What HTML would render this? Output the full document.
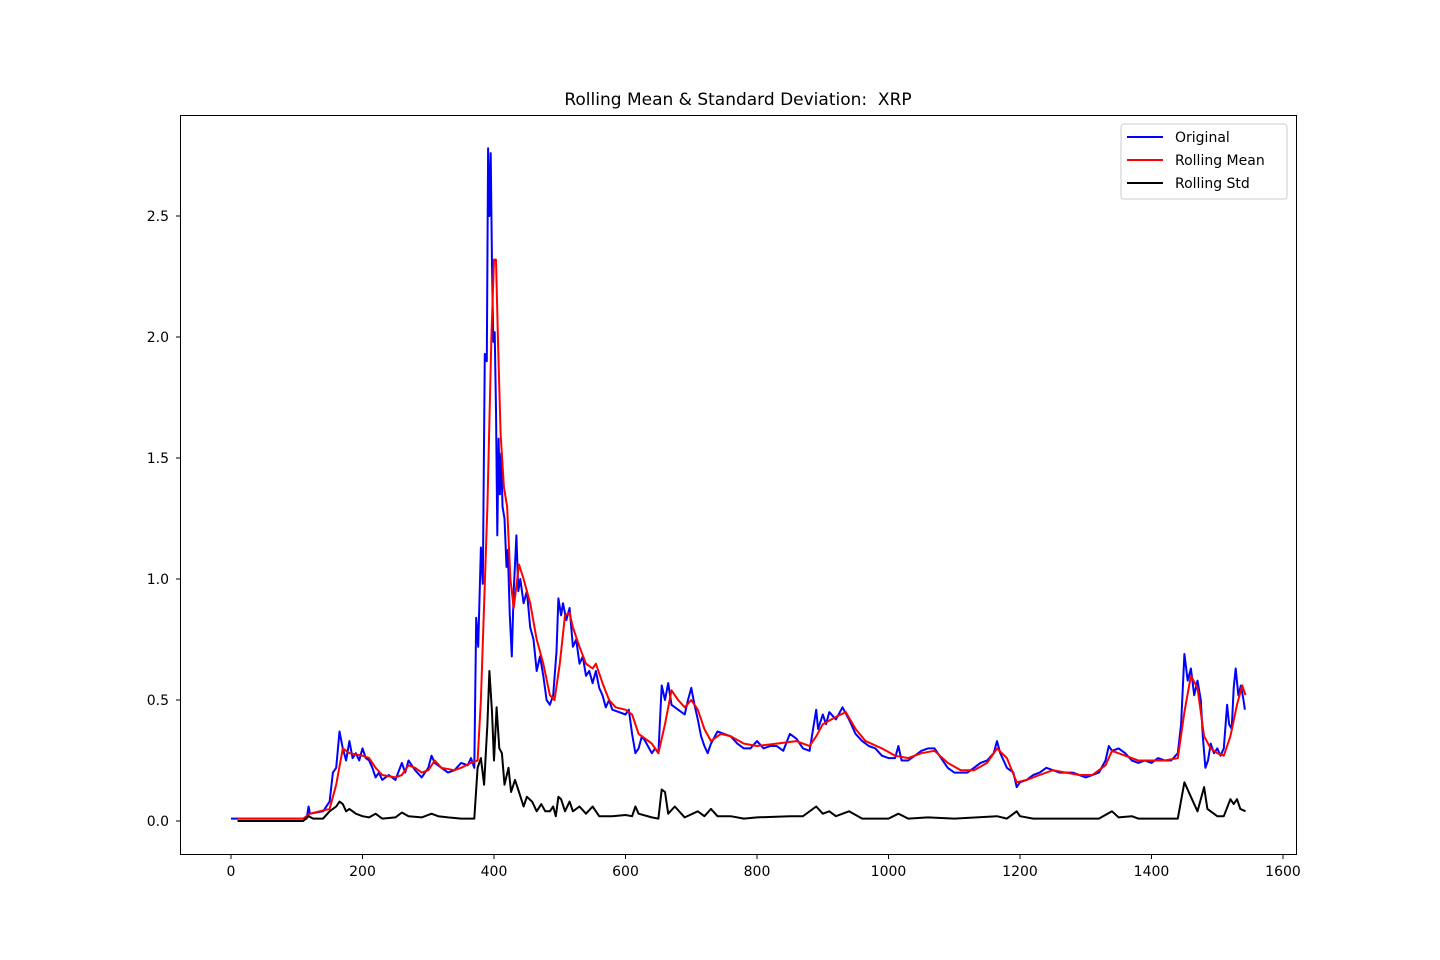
<!DOCTYPE html>
<html><head><meta charset="utf-8"><style>
body{margin:0;background:#fff;}
svg{display:block;font-family:"DejaVu Sans","Liberation Sans",sans-serif;}
</style></head><body>
<svg id="chart" width="1440" height="960">
<rect width="1440" height="960" fill="#fff"/>
<text x="738" y="105" font-size="17" text-anchor="middle">Rolling Mean &amp; Standard Deviation:&#160; XRP</text>
<g id="plot"></g>
<g id="axes"></g>
<rect x="180.5" y="115.5" width="1116" height="739" fill="none" stroke="#000" stroke-width="1"/>
<g>
<rect x="1121" y="124" width="166" height="75" rx="3" fill="#fff" fill-opacity="0.8" stroke="#ccc"/>
<line x1="1127" y1="137" x2="1163" y2="137" stroke="#0000ff" stroke-width="2"/>
<text x="1175" y="142" font-size="14">Original</text>
<line x1="1127" y1="160" x2="1163" y2="160" stroke="#ff0000" stroke-width="2"/>
<text x="1175" y="165" font-size="14">Rolling Mean</text>
<line x1="1127" y1="183" x2="1163" y2="183" stroke="#000" stroke-width="2"/>
<text x="1175" y="188" font-size="14">Rolling Std</text>
</g>
</svg>
<script>
const xTicks=[0,200,400,600,800,1000,1200,1400,1600];
const yTicks=[0.0,0.5,1.0,1.5,2.0,2.5];
const origDays=[0,100,115,118,120,140,150,155,160,165,170,175,180,185,190,195,200,205,210,215,220,225,230,240,250,260,265,270,280,290,300,305,310,320,330,340,350,360,365,370,373,376,380,383,386,389,391,393,395,397,399,401,403,405,407,409,411,413,416,419,421,424,427,430,434,437,440,445,450,455,460,465,470,475,480,485,490,495,498,502,505,510,515,520,525,530,535,540,545,550,555,560,565,570,575,580,590,600,605,610,615,620,625,630,640,645,650,655,660,665,670,680,690,695,700,705,710,715,720,725,730,740,750,760,770,780,790,800,810,820,830,840,850,860,870,880,890,893,900,905,910,920,930,940,950,960,970,980,990,1000,1010,1015,1020,1030,1040,1050,1060,1070,1080,1090,1100,1110,1120,1130,1140,1150,1160,1165,1170,1180,1190,1195,1200,1210,1220,1230,1240,1250,1260,1270,1280,1290,1300,1310,1320,1330,1335,1340,1350,1360,1370,1380,1390,1400,1410,1420,1430,1440,1445,1450,1455,1460,1465,1470,1475,1478,1482,1486,1490,1495,1500,1505,1510,1515,1518,1522,1525,1528,1532,1536,1540,1542];
const origVals=[0.01,0.01,0.01,0.06,0.03,0.04,0.08,0.2,0.22,0.37,0.3,0.25,0.33,0.26,0.28,0.25,0.3,0.26,0.25,0.22,0.18,0.2,0.17,0.19,0.17,0.24,0.2,0.25,0.21,0.18,0.22,0.27,0.24,0.22,0.2,0.21,0.24,0.23,0.26,0.22,0.84,0.72,1.13,0.98,1.93,1.9,2.78,2.5,2.76,2.3,1.98,2.02,1.7,1.18,1.58,1.35,1.52,1.3,1.25,1.05,1.12,0.85,0.68,0.95,1.18,0.95,1.0,0.9,0.95,0.8,0.75,0.62,0.68,0.6,0.5,0.48,0.52,0.7,0.92,0.85,0.9,0.83,0.88,0.72,0.75,0.65,0.68,0.6,0.62,0.57,0.62,0.55,0.52,0.47,0.5,0.46,0.45,0.44,0.46,0.36,0.28,0.3,0.35,0.33,0.28,0.3,0.28,0.56,0.5,0.57,0.48,0.46,0.44,0.5,0.55,0.48,0.42,0.35,0.31,0.28,0.32,0.37,0.36,0.35,0.32,0.3,0.3,0.33,0.3,0.31,0.31,0.29,0.36,0.34,0.3,0.29,0.46,0.38,0.44,0.4,0.45,0.42,0.47,0.42,0.36,0.33,0.31,0.3,0.27,0.26,0.26,0.31,0.25,0.25,0.27,0.29,0.3,0.3,0.26,0.22,0.2,0.2,0.2,0.22,0.24,0.25,0.28,0.33,0.28,0.22,0.2,0.14,0.16,0.17,0.19,0.2,0.22,0.21,0.2,0.2,0.2,0.19,0.18,0.19,0.2,0.25,0.31,0.29,0.3,0.28,0.25,0.24,0.25,0.24,0.26,0.25,0.25,0.28,0.4,0.69,0.58,0.63,0.52,0.58,0.5,0.35,0.22,0.25,0.32,0.28,0.3,0.27,0.3,0.48,0.4,0.38,0.55,0.63,0.52,0.56,0.5,0.46];
const meanDays=[10,110,120,150,160,170,180,200,210,220,230,250,260,270,280,290,300,310,320,340,350,365,375,380,390,396,400,403,406,410,415,420,425,430,438,445,455,465,475,485,492,500,508,515,520,530,540,550,555,565,575,585,600,610,620,630,640,650,660,670,680,690,700,710,720,730,745,760,780,800,830,860,880,890,900,920,935,950,965,990,1010,1030,1050,1070,1090,1110,1130,1150,1165,1180,1195,1210,1230,1250,1270,1290,1310,1330,1340,1360,1380,1400,1420,1440,1450,1460,1470,1480,1490,1500,1510,1520,1530,1538,1543];
const meanVals=[0.01,0.01,0.03,0.05,0.15,0.3,0.28,0.27,0.26,0.22,0.19,0.18,0.19,0.23,0.22,0.2,0.21,0.25,0.22,0.21,0.22,0.24,0.25,0.5,1.3,2.0,2.32,2.32,2.0,1.6,1.38,1.3,1.0,0.88,1.06,1.0,0.9,0.75,0.65,0.52,0.5,0.65,0.85,0.86,0.8,0.72,0.65,0.63,0.65,0.57,0.5,0.47,0.46,0.44,0.36,0.34,0.32,0.28,0.4,0.54,0.5,0.47,0.5,0.46,0.38,0.33,0.36,0.35,0.32,0.31,0.32,0.33,0.31,0.35,0.4,0.43,0.45,0.38,0.33,0.3,0.27,0.26,0.28,0.29,0.24,0.21,0.21,0.24,0.3,0.26,0.16,0.17,0.19,0.21,0.2,0.19,0.19,0.23,0.29,0.27,0.25,0.25,0.25,0.26,0.45,0.6,0.55,0.35,0.3,0.28,0.27,0.35,0.48,0.56,0.52];
const stdDays=[10,110,118,125,140,150,160,165,170,175,180,190,200,210,220,230,250,260,270,290,305,315,330,350,370,375,380,385,390,393,397,400,404,408,412,416,422,426,432,438,445,450,458,465,472,478,485,490,494,498,502,508,515,520,530,540,550,560,580,600,610,615,620,640,650,655,660,665,675,690,710,720,730,740,760,780,800,850,870,890,900,910,920,940,960,1000,1015,1030,1060,1100,1165,1180,1195,1200,1220,1280,1320,1340,1350,1370,1380,1440,1450,1460,1470,1480,1485,1500,1510,1520,1525,1530,1535,1543];
const stdVals=[0.0,0.0,0.02,0.01,0.01,0.04,0.06,0.08,0.07,0.04,0.05,0.03,0.02,0.015,0.03,0.01,0.015,0.035,0.02,0.015,0.03,0.02,0.015,0.01,0.01,0.22,0.26,0.15,0.4,0.62,0.45,0.25,0.47,0.3,0.28,0.15,0.22,0.12,0.17,0.12,0.06,0.1,0.08,0.04,0.07,0.04,0.04,0.06,0.02,0.1,0.09,0.04,0.08,0.04,0.06,0.03,0.06,0.02,0.02,0.025,0.02,0.06,0.03,0.015,0.01,0.13,0.12,0.03,0.06,0.015,0.04,0.02,0.05,0.02,0.02,0.01,0.015,0.02,0.02,0.06,0.03,0.04,0.02,0.04,0.01,0.01,0.03,0.01,0.015,0.01,0.02,0.01,0.04,0.02,0.01,0.01,0.01,0.04,0.015,0.02,0.01,0.01,0.16,0.1,0.04,0.14,0.05,0.02,0.02,0.09,0.07,0.09,0.05,0.04];

const NS="http://www.w3.org/2000/svg";
const X0=231,XS=(1283-231)/1600,Y0=821,YS=(821-216)/2.5;
function xPx(v){return X0+v*XS;}
function yPx(v){return Y0-v*YS;}
const plot=document.getElementById('plot'),axes=document.getElementById('axes');
function series(days,vals,color,name){
  const p=document.createElementNS(NS,'polyline');
  p.setAttribute('points',days.map((d,i)=>xPx(d).toFixed(1)+','+yPx(vals[i]).toFixed(1)).join(' '));
  p.setAttribute('fill','none');p.setAttribute('stroke',color);p.setAttribute('stroke-width','2');
  p.setAttribute('stroke-linejoin','round');
  
  
  plot.appendChild(p);
}
series(origDays,origVals,'#0000ff','original-line');
series(meanDays,meanVals,'#ff0000','rolling-mean-line');
series(stdDays,stdVals,'#000000','rolling-std-line');
xTicks.forEach(t=>{
  const x=xPx(t);
  const l=document.createElementNS(NS,'line');
  l.setAttribute('x1',x);l.setAttribute('x2',x);l.setAttribute('y1',855);l.setAttribute('y2',859);l.setAttribute('stroke','#000');
  
  
  axes.appendChild(l);
  const s=document.createElementNS(NS,'text');
  s.setAttribute('x',x);s.setAttribute('y',876);s.setAttribute('font-size','14');s.setAttribute('text-anchor','middle');
  s.textContent=String(t);
  
  
  axes.appendChild(s);
});
yTicks.forEach(t=>{
  const y=yPx(t);
  const l=document.createElementNS(NS,'line');
  l.setAttribute('x1',176);l.setAttribute('x2',180);l.setAttribute('y1',y);l.setAttribute('y2',y);l.setAttribute('stroke','#000');
  
  
  axes.appendChild(l);
  const s=document.createElementNS(NS,'text');
  s.setAttribute('x',169);s.setAttribute('y',y+5);s.setAttribute('font-size','14');s.setAttribute('text-anchor','end');
  s.textContent=t.toFixed(1);
  
  
  axes.appendChild(s);
});
</script>
</body></html>
